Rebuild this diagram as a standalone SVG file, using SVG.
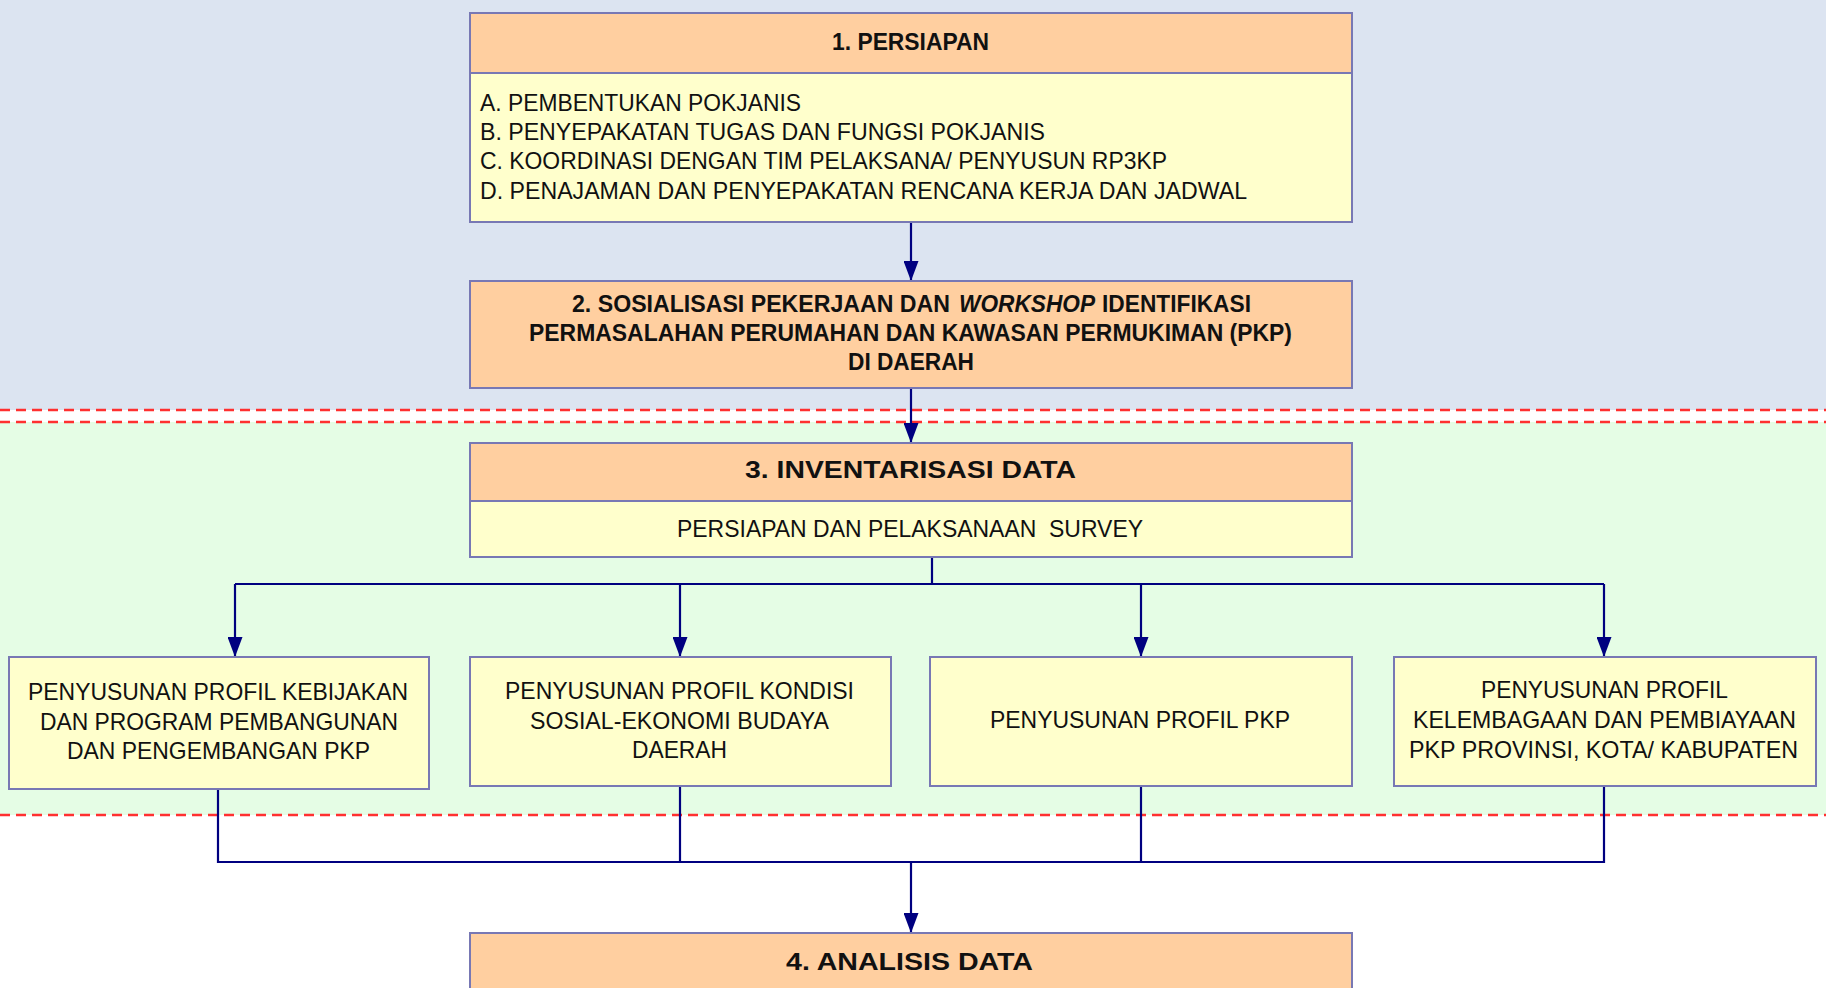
<svg xmlns="http://www.w3.org/2000/svg" width="1826" height="988" viewBox="0 0 1826 988">
<defs>
<style>
.hd{fill:#FFCFA0;stroke:#7878B4;stroke-width:2}
.bd{fill:#FFFFCC;stroke:#7878B4;stroke-width:2}
.t{font-family:"Liberation Sans",Arial,sans-serif;font-size:24px;fill:#111;white-space:pre}
.b{font-weight:bold}
.i{font-style:italic}
.cn{fill:none;stroke:#000080;stroke-width:2.2}
.dash{stroke:#FF3030;stroke-width:2.5;stroke-dasharray:10 6;fill:none}
</style>
<marker id="ar" markerWidth="20" markerHeight="15" refX="20" refY="7.5" orient="auto" markerUnits="userSpaceOnUse" viewBox="0 0 20 15">
<path d="M0,0 L20,7.5 L0,15 Z" fill="#000080"/>
</marker>
</defs>
<rect x="0" y="0" width="1826" height="988" fill="#FFFFFF"/>
<rect x="0" y="0" width="1826" height="410" fill="#DCE4F1"/>
<rect x="0" y="422" width="1826" height="393" fill="#E5FDE5"/>
<line class="dash" x1="0" y1="410" x2="1826" y2="410"/>
<line class="dash" x1="0" y1="422" x2="1826" y2="422"/>
<line class="dash" x1="0" y1="815" x2="1826" y2="815"/>

<g id="connectors">
<path class="cn" d="M911,222 V281" marker-end="url(#ar)"/>
<path class="cn" d="M911,388 V443" marker-end="url(#ar)"/>
<path class="cn" d="M932,557 V584 H235"/>
<path class="cn" d="M235,584 V657" marker-end="url(#ar)"/>
<path class="cn" d="M680,584 V657" marker-end="url(#ar)"/>
<path class="cn" d="M932,584 H1604"/>
<path class="cn" d="M1141,584 V657" marker-end="url(#ar)"/>
<path class="cn" d="M1604,584 V657" marker-end="url(#ar)"/>
<path class="cn" d="M218,789 V862 H1604 V786"/>
<path class="cn" d="M680,786 V862"/>
<path class="cn" d="M1141,786 V862"/>
<path class="cn" d="M911,862 V933" marker-end="url(#ar)"/>
</g>

<g id="node1">
<rect class="bd" x="470" y="13" width="882" height="209"/>
<rect class="hd" x="470" y="13" width="882" height="60"/>
<text class="t b" x="832" y="50" textLength="157" lengthAdjust="spacingAndGlyphs">1. PERSIAPAN</text>
<text class="t" x="480" y="111" textLength="321" lengthAdjust="spacingAndGlyphs">A. PEMBENTUKAN POKJANIS</text>
<text class="t" x="480" y="140" textLength="565" lengthAdjust="spacingAndGlyphs">B. PENYEPAKATAN TUGAS DAN FUNGSI POKJANIS</text>
<text class="t" x="480" y="169" textLength="687" lengthAdjust="spacingAndGlyphs">C. KOORDINASI DENGAN TIM PELAKSANA/ PENYUSUN RP3KP</text>
<text class="t" x="480" y="199" textLength="767" lengthAdjust="spacingAndGlyphs">D. PENAJAMAN DAN PENYEPAKATAN RENCANA KERJA DAN JADWAL</text>
</g>

<g id="node2">
<rect class="hd" x="470" y="281" width="882" height="107"/>
<text class="t b" x="572" y="312" textLength="378" lengthAdjust="spacingAndGlyphs">2. SOSIALISASI PEKERJAAN DAN</text>
<text class="t b i" x="959" y="312" textLength="136" lengthAdjust="spacingAndGlyphs">WORKSHOP</text>
<text class="t b" x="1102" y="312" textLength="149" lengthAdjust="spacingAndGlyphs">IDENTIFIKASI</text>
<text class="t b" x="529" y="341" textLength="763" lengthAdjust="spacingAndGlyphs">PERMASALAHAN PERUMAHAN DAN KAWASAN PERMUKIMAN (PKP)</text>
<text class="t b" x="848" y="370" textLength="126" lengthAdjust="spacingAndGlyphs">DI DAERAH</text>
</g>

<g id="node3">
<rect class="bd" x="470" y="443" width="882" height="114"/>
<rect class="hd" x="470" y="443" width="882" height="58"/>
<text class="t b" x="745" y="478" textLength="331" lengthAdjust="spacingAndGlyphs">3. INVENTARISASI DATA</text>
<text class="t" x="677" y="537" textLength="466" lengthAdjust="spacingAndGlyphs">PERSIAPAN DAN PELAKSANAAN  SURVEY</text>
</g>

<g id="nodeA">
<rect class="bd" x="9" y="657" width="420" height="132"/>
<text class="t" x="28" y="700" textLength="380" lengthAdjust="spacingAndGlyphs">PENYUSUNAN PROFIL KEBIJAKAN</text>
<text class="t" x="40" y="730" textLength="358" lengthAdjust="spacingAndGlyphs">DAN PROGRAM PEMBANGUNAN</text>
<text class="t" x="67" y="759" textLength="303" lengthAdjust="spacingAndGlyphs">DAN PENGEMBANGAN PKP</text>
</g>

<g id="nodeB">
<rect class="bd" x="470" y="657" width="421" height="129"/>
<text class="t" x="505" y="699" textLength="349" lengthAdjust="spacingAndGlyphs">PENYUSUNAN PROFIL KONDISI</text>
<text class="t" x="530" y="729" textLength="299" lengthAdjust="spacingAndGlyphs">SOSIAL-EKONOMI BUDAYA</text>
<text class="t" x="632" y="758" textLength="95" lengthAdjust="spacingAndGlyphs">DAERAH</text>
</g>

<g id="nodeC">
<rect class="bd" x="930" y="657" width="422" height="129"/>
<text class="t" x="990" y="728" textLength="300" lengthAdjust="spacingAndGlyphs">PENYUSUNAN PROFIL PKP</text>
</g>

<g id="nodeD">
<rect class="bd" x="1394" y="657" width="422" height="129"/>
<text class="t" x="1481" y="698" textLength="247" lengthAdjust="spacingAndGlyphs">PENYUSUNAN PROFIL</text>
<text class="t" x="1413" y="728" textLength="383" lengthAdjust="spacingAndGlyphs">KELEMBAGAAN DAN PEMBIAYAAN</text>
<text class="t" x="1409" y="758" textLength="389" lengthAdjust="spacingAndGlyphs">PKP PROVINSI, KOTA/ KABUPATEN</text>
</g>

<g id="node4">
<rect class="hd" x="470" y="933" width="882" height="70"/>
<text class="t b" x="786" y="970" textLength="247" lengthAdjust="spacingAndGlyphs">4. ANALISIS DATA</text>
</g>
</svg>
